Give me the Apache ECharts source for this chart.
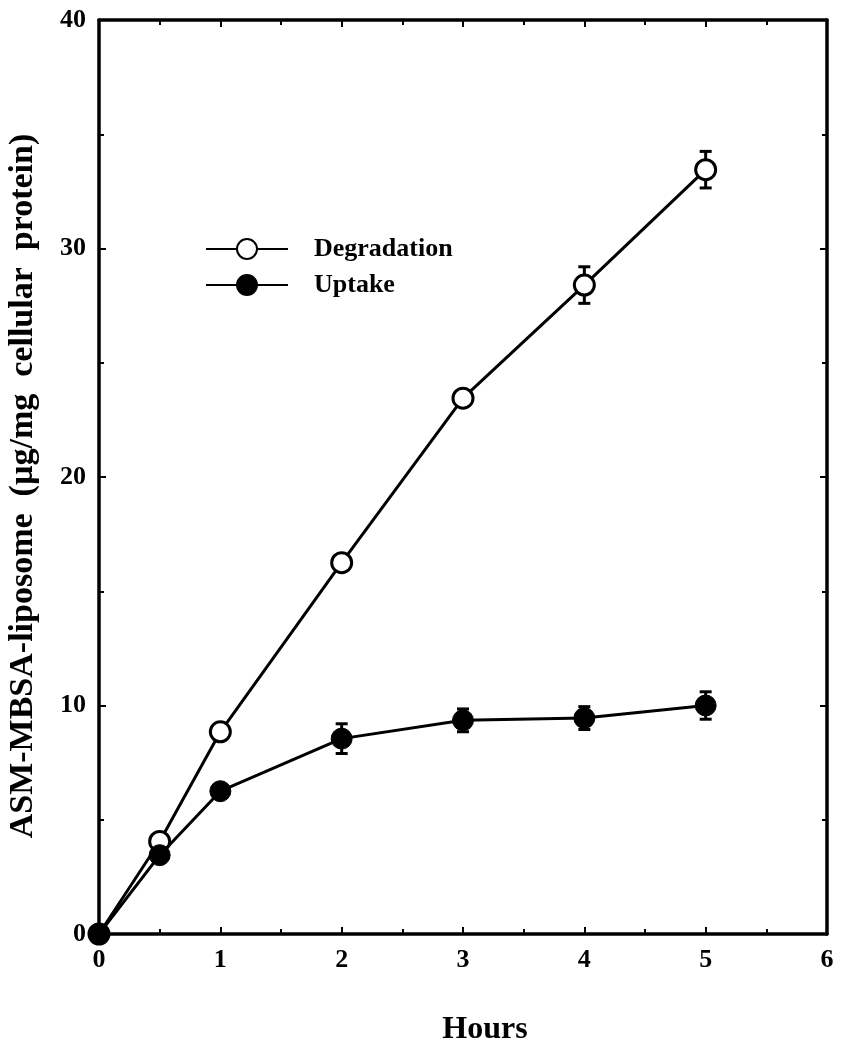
<!DOCTYPE html>
<html><head><meta charset="utf-8">
<script src="https://cdn.jsdelivr.net/npm/echarts@6/dist/echarts.min.js"></script>
<style>html,body{margin:0;padding:0;background:#fff}#c{width:848px;height:1050px}</style>
</head><body><div id="c"></div>
<script>
const hours = [0, 0.5, 1, 2, 3, 4, 5];
const degradation = [0, 4.05, 8.85, 16.25, 23.45, 28.4, 33.45];
const degradationErr = [0, 0, 0, 0, 0, 0.8, 0.8];
const uptake = [0, 3.45, 6.25, 8.55, 9.35, 9.45, 10.0];
const uptakeErr = [0, 0, 0, 0.65, 0.5, 0.5, 0.6];
const xTicks = [0, 1, 2, 3, 4, 5, 6];
const yTicks = [0, 10, 20, 30, 40];

const font = 'Liberation Serif';
const pairs = (xs, ys) => xs.map((x, i) => [x, ys[i]]);
const errData = (ys, es) => hours.map((x, i) => [x, ys[i] - es[i], ys[i] + es[i]]).filter((d, i) => es[i] > 0);

function errRender(params, api) {
  const x = api.value(0);
  const lo = api.coord([x, api.value(1)]);
  const hi = api.coord([x, api.value(2)]);
  const w = 6;
  const st = {stroke: '#000', lineWidth: 3};
  return {type: 'group', children: [
    {type: 'line', shape: {x1: lo[0], y1: lo[1], x2: hi[0], y2: hi[1]}, style: st},
    {type: 'line', shape: {x1: lo[0]-w, y1: lo[1], x2: lo[0]+w, y2: lo[1]}, style: st},
    {type: 'line', shape: {x1: hi[0]-w, y1: hi[1], x2: hi[0]+w, y2: hi[1]}, style: st}
  ]};
}

const axisCommon = () => ({
  axisLine: {show: true, onZero: false, lineStyle: {color: '#000', width: 3.5}},
  axisTick: {show: true, inside: true, length: 7, lineStyle: {color: '#000', width: 2}},
  minorTick: {show: true, splitNumber: 2, length: 5, lineStyle: {color: '#000', width: 2}},
  splitLine: {show: false}
});
const labelStyle = {color: '#000', fontFamily: font, fontWeight: 'bold', fontSize: 26};

const chart = echarts.init(document.getElementById('c'));
chart.setOption({
  backgroundColor: '#fff',
  animation: false,
  grid: {left: 99, right: 21, top: 20, bottom: 116, containLabel: false, outerBoundsMode: 'none'},
  legend: {
    left: 200, top: 231, orient: 'vertical', itemGap: 10,
    itemWidth: 82, itemHeight: 25,
    textStyle: {color: '#000', fontFamily: font, fontWeight: 'bold', fontSize: 26, padding: [0, 0, 0, 21]},
    data: ['Degradation', 'Uptake']
  },
  xAxis: [
    Object.assign(axisCommon(), {type: 'value', min: 0, max: 6, interval: 1, position: 'bottom',
      name: 'Hours', nameLocation: 'middle', nameGap: 80,
      nameTextStyle: {color: '#000', fontFamily: font, fontWeight: 'bold', fontSize: 32, padding: [0, 0, 0, 44]},
      axisLabel: Object.assign({margin: 13, formatter: v => xTicks.includes(v) ? String(v) : ''}, labelStyle)
    }),
    Object.assign(axisCommon(), {type: 'value', min: 0, max: 6, interval: 1, position: 'top', axisLabel: {show: false}})
  ],
  yAxis: [
    Object.assign(axisCommon(), {type: 'value', min: 0, max: 40, interval: 10, position: 'left',
      name: 'ASM-MBSA-liposome  (\u00b5g/mg  cellular  protein)', nameLocation: 'middle', nameGap: 59,
      nameTextStyle: {color: '#000', fontFamily: font, fontWeight: 'bold', fontSize: 34, padding: [0, 18, 0, 0]},
      axisLabel: Object.assign({margin: 13, formatter: v => yTicks.includes(v) ? String(v) : ''}, labelStyle)
    }),
    Object.assign(axisCommon(), {type: 'value', min: 0, max: 40, interval: 10, position: 'right', axisLabel: {show: false}})
  ],
  series: [
    {name: 'Degradation', type: 'line', data: pairs(hours, degradation),
      symbol: 'circle', symbolSize: 20,
      lineStyle: {color: '#000', width: 3},
      itemStyle: {color: '#fff', borderColor: '#000', borderWidth: 3}, z: 3},
    {name: 'Uptake', type: 'line', data: pairs(hours, uptake),
      symbol: 'circle', symbolSize: 21,
      lineStyle: {color: '#000', width: 3},
      itemStyle: {color: '#000', borderColor: '#000', borderWidth: 1}, z: 4},
    {type: 'custom', renderItem: errRender, data: errData(degradation, degradationErr), encode: {x: 0, y: [1, 2]}, z: 2},
    {type: 'custom', renderItem: errRender, data: errData(uptake, uptakeErr), encode: {x: 0, y: [1, 2]}, z: 2}
  ]
});
</script></body></html>
